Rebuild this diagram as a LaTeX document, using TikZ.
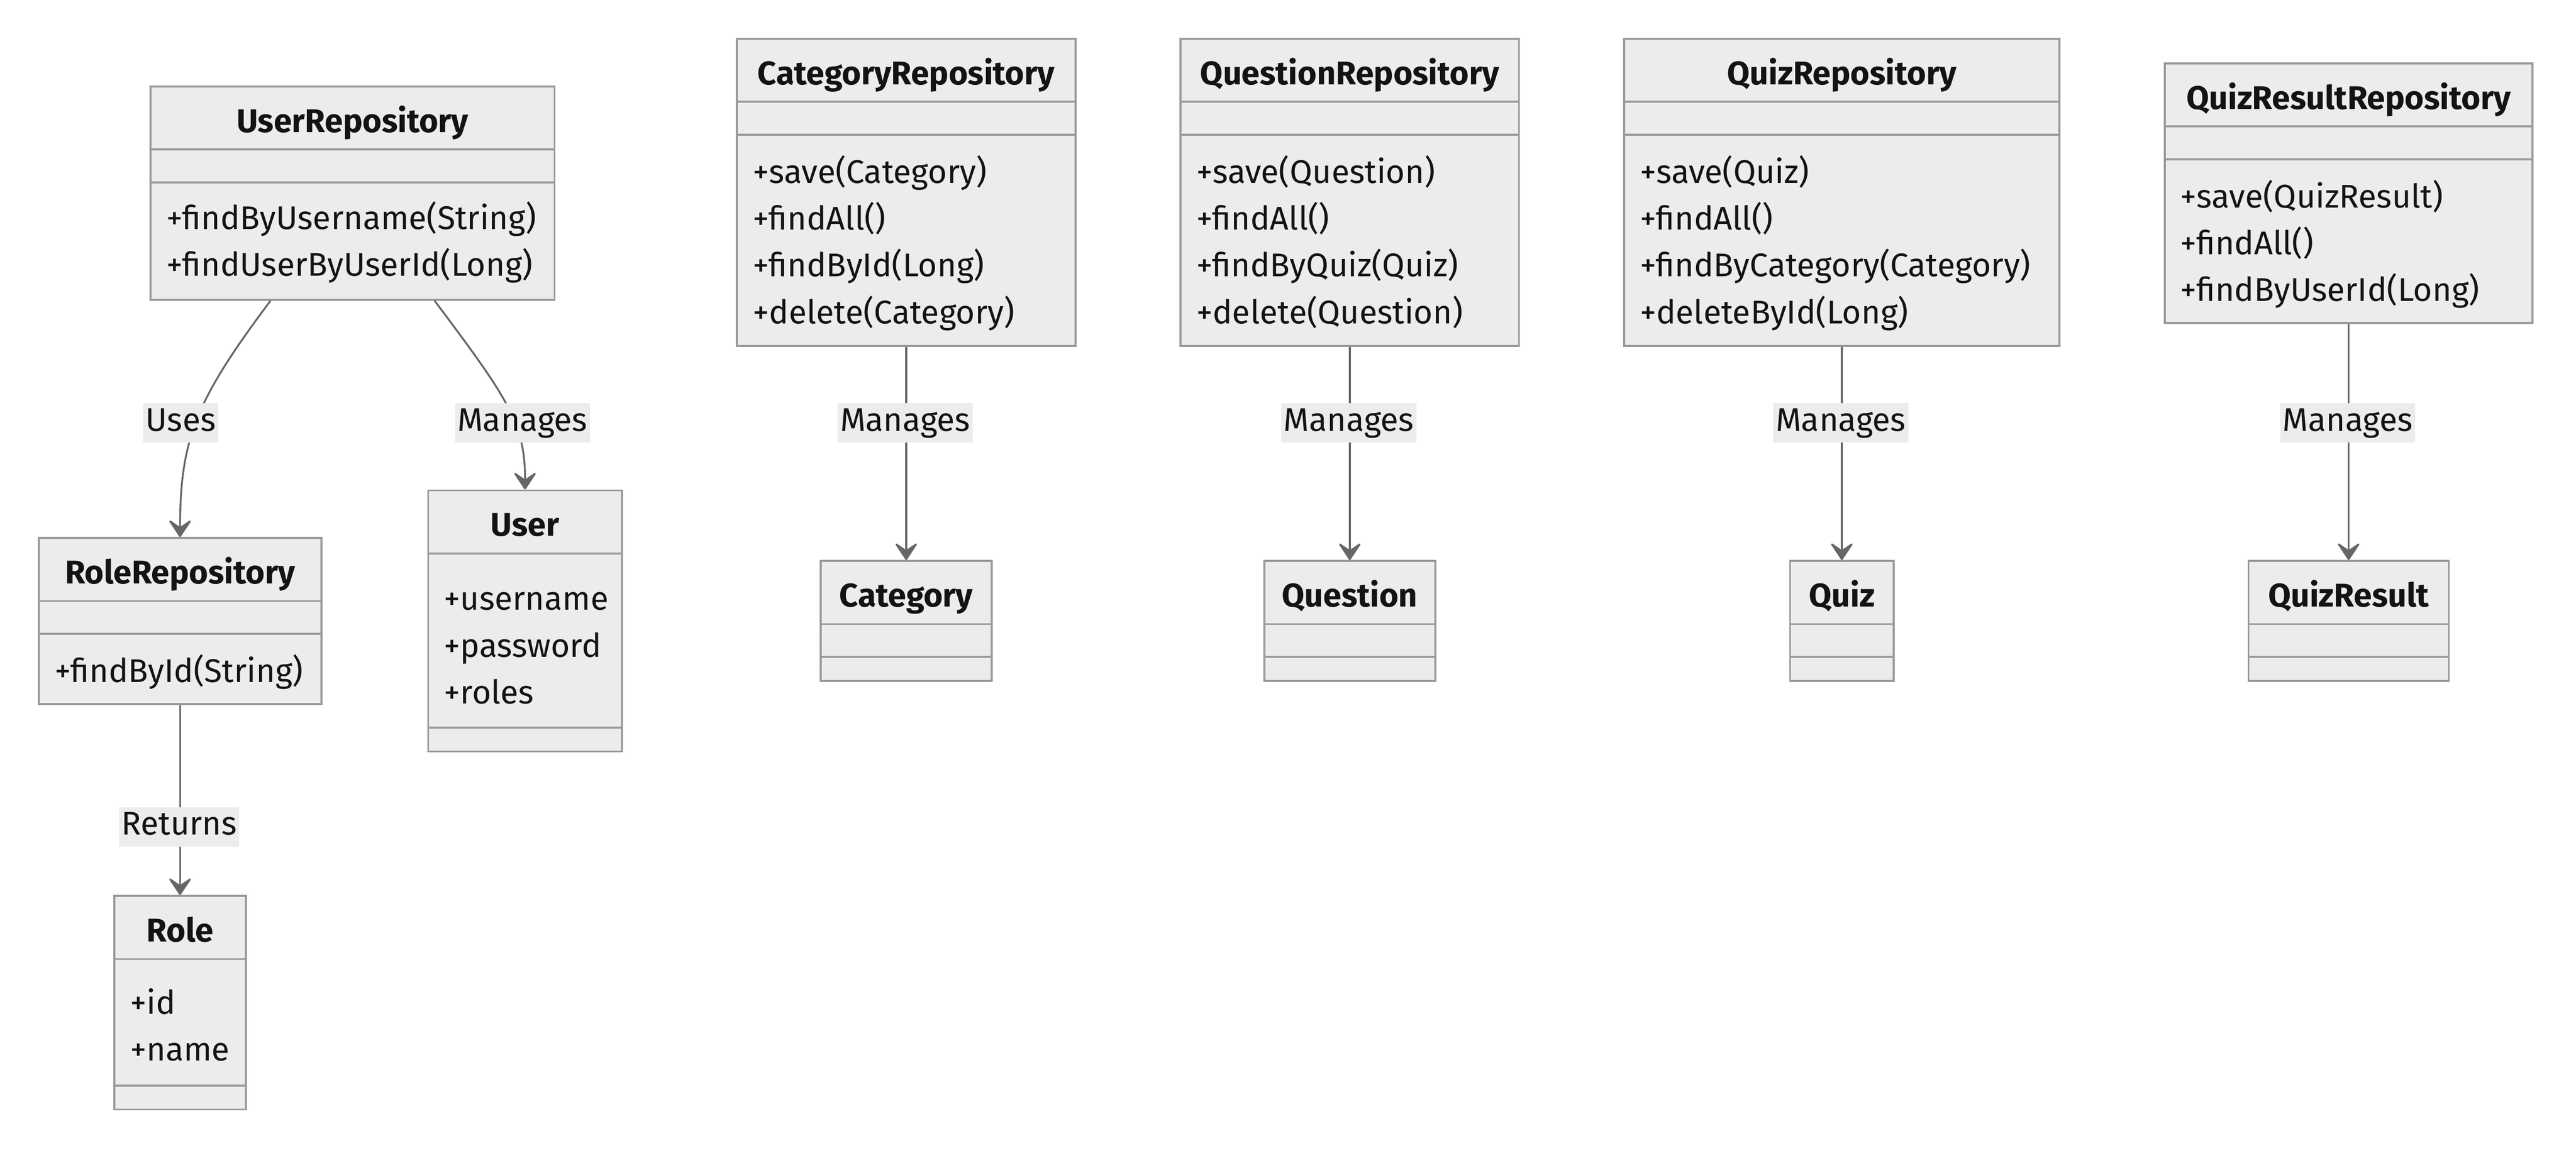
\documentclass[tikz,border=0pt]{standalone}
\usepackage{fontspec}
\setmainfont{Fira Sans}
\usepackage{tikz}
\usetikzlibrary{arrows.meta}
\usetikzlibrary{positioning}

\definecolor{boxfill}{HTML}{ECECEC}
\definecolor{boxline}{HTML}{9A9A9A}
\definecolor{edgeline}{HTML}{666666}
\definecolor{lblfill}{HTML}{ECECEC}
\definecolor{ink}{HTML}{131313}

\begin{document}
\begin{tikzpicture}[x=1pt,y=-1pt,
	cls/.style={draw=boxline, fill=boxfill, line width=1.2pt, anchor=north west, inner sep=0pt},
	divline/.style={draw=boxline, line width=1.2pt},
	ttl/.style={font=\fontsize{20}{24}\selectfont\bfseries, text=ink, inner sep=0pt, text height=14pt, text depth=4pt},
	mem/.style={font=\fontsize{20}{24}\selectfont, text=ink, anchor=west, inner sep=0pt, text height=14pt, text depth=4pt},
	lbl/.style={font=\fontsize{20}{24}\selectfont, text=ink, fill=lblfill, inner xsep=1.5pt, inner ysep=2pt, text height=15pt, text depth=5pt},
	assoc/.style={draw=edgeline, line width=1.1pt, -{Stealth[length=12pt,width=16pt,inset=5.5pt,round]}}]

	\useasboundingbox (0,0) rectangle (1568,705);

	% repositories
	\node[cls, minimum width=246pt, minimum height=130pt] (urepo) at (91,52) {};
	\node[cls, minimum width=172pt, minimum height=101pt] (rrepo) at (23,327) {};
	\node[cls, minimum width=206pt, minimum height=187pt] (crepo) at (448,23) {};
	\node[cls, minimum width=206pt, minimum height=187pt] (qrepo) at (718,23) {};
	\node[cls, minimum width=265pt, minimum height=187pt] (zrepo) at (988,23) {};
	\node[cls, minimum width=224pt, minimum height=158pt] (rsrepo) at (1317,38) {};

	% entities
	\node[cls, minimum width=118pt, minimum height=159pt] (user) at (260,298) {};
	\node[cls, minimum width=80pt, minimum height=130pt] (role) at (69,545) {};
	\node[cls, minimum width=104pt, minimum height=73pt] (cat) at (499,341) {};
	\node[cls, minimum width=104pt, minimum height=73pt] (ques) at (769,341) {};
	\node[cls, minimum width=63pt, minimum height=73pt] (quiz) at (1089,341) {};
	\node[cls, minimum width=122pt, minimum height=73pt] (qres) at (1368,341) {};

	% compartments
	\foreach \n/\a/\b in {urepo/39/59, rrepo/39/59, crepo/39/59, qrepo/39/59, zrepo/39/59, rsrepo/39/59,
		user/39/145, role/39/116, cat/39/59, ques/39/59, quiz/39/59, qres/39/59}{
		\draw[divline] ([yshift=-\a pt]\n.north west) -- ([yshift=-\a pt]\n.north east);
		\draw[divline] ([yshift=-\b pt]\n.north west) -- ([yshift=-\b pt]\n.north east);
	}

	% class names
	\foreach \n/\t in {urepo/UserRepository, rrepo/RoleRepository, crepo/CategoryRepository,
		qrepo/QuestionRepository, zrepo/QuizRepository, rsrepo/QuizResultRepository,
		user/User, role/Role, cat/Category, ques/Question, quiz/Quiz, qres/QuizResult}
		\node[ttl] (\n-t) at ([yshift=-23.5pt]\n.north) {\t};

	% members
	\foreach \t [count=\i] in {+findByUsername(String), +findUserByUserId(Long)}
		\node[mem] (urepo-m\i) at (101,{106+28.5*\i}) {\t};
	\foreach \t [count=\i] in {+findById(String)}
		\node[mem] (rrepo-m\i) at (33,{382+28.5*\i}) {\t};
	\foreach \t [count=\i] in {+username, +password, +roles}
		\node[mem] (user-m\i) at (270,{338+28.5*\i}) {\t};
	\foreach \t [count=\i] in {+id, +name}
		\node[mem] (role-m\i) at (79,{584+28.5*\i}) {\t};
	\foreach \t [count=\i] in {+save(Category), +findAll(), +findById(Long), +delete(Category)}
		\node[mem] (crepo-m\i) at (458,{78+28.5*\i}) {\t};
	\foreach \t [count=\i] in {+save(Question), +findAll(), +findByQuiz(Quiz), +delete(Question)}
		\node[mem] (qrepo-m\i) at (728,{78+28.5*\i}) {\t};
	\foreach \t [count=\i] in {+save(Quiz), +findAll(), +findByCategory(Category), +deleteById(Long)}
		\node[mem] (zrepo-m\i) at (998,{78+28.5*\i}) {\t};
	\foreach \t [count=\i] in {+save(QuizResult), +findAll(), +findByUserId(Long)}
		\node[mem] (rsrepo-m\i) at (1327,{93+28.5*\i}) {\t};

	% connectors
	\coordinate (uses0) at ([xshift=-50pt]urepo.south);
	\coordinate (mng0) at ([xshift=50pt]urepo.south);
	\draw[assoc] (uses0) .. controls +(-45,60) and +(0,-60) .. (rrepo.north);
	\draw[assoc] (mng0) .. controls +(45,60) and +(0,-40) .. (user.north);
	\draw[assoc] (rrepo.south) -- (role.north);
	\draw[assoc] (crepo.south) -- (cat.north);
	\draw[assoc] (qrepo.south) -- (ques.north);
	\draw[assoc] (zrepo.south) -- (quiz.north);
	\draw[assoc] (rsrepo.south) -- (qres.north);

	% labels
	\node[lbl] (luses) at (110,257.5) {Uses};
	\node[lbl] (lusr) at (318,257.5) {Manages};
	\node[lbl] (lret) at (109,503.5) {Returns};
	\node[lbl] (lcat) at (551,257.5) {Manages};
	\node[lbl] (lques) at (821,257.5) {Manages};
	\node[lbl] (lquiz) at (1120.5,257.5) {Manages};
	\node[lbl] (lqres) at (1429,257.5) {Manages};
\end{tikzpicture}
\end{document}
